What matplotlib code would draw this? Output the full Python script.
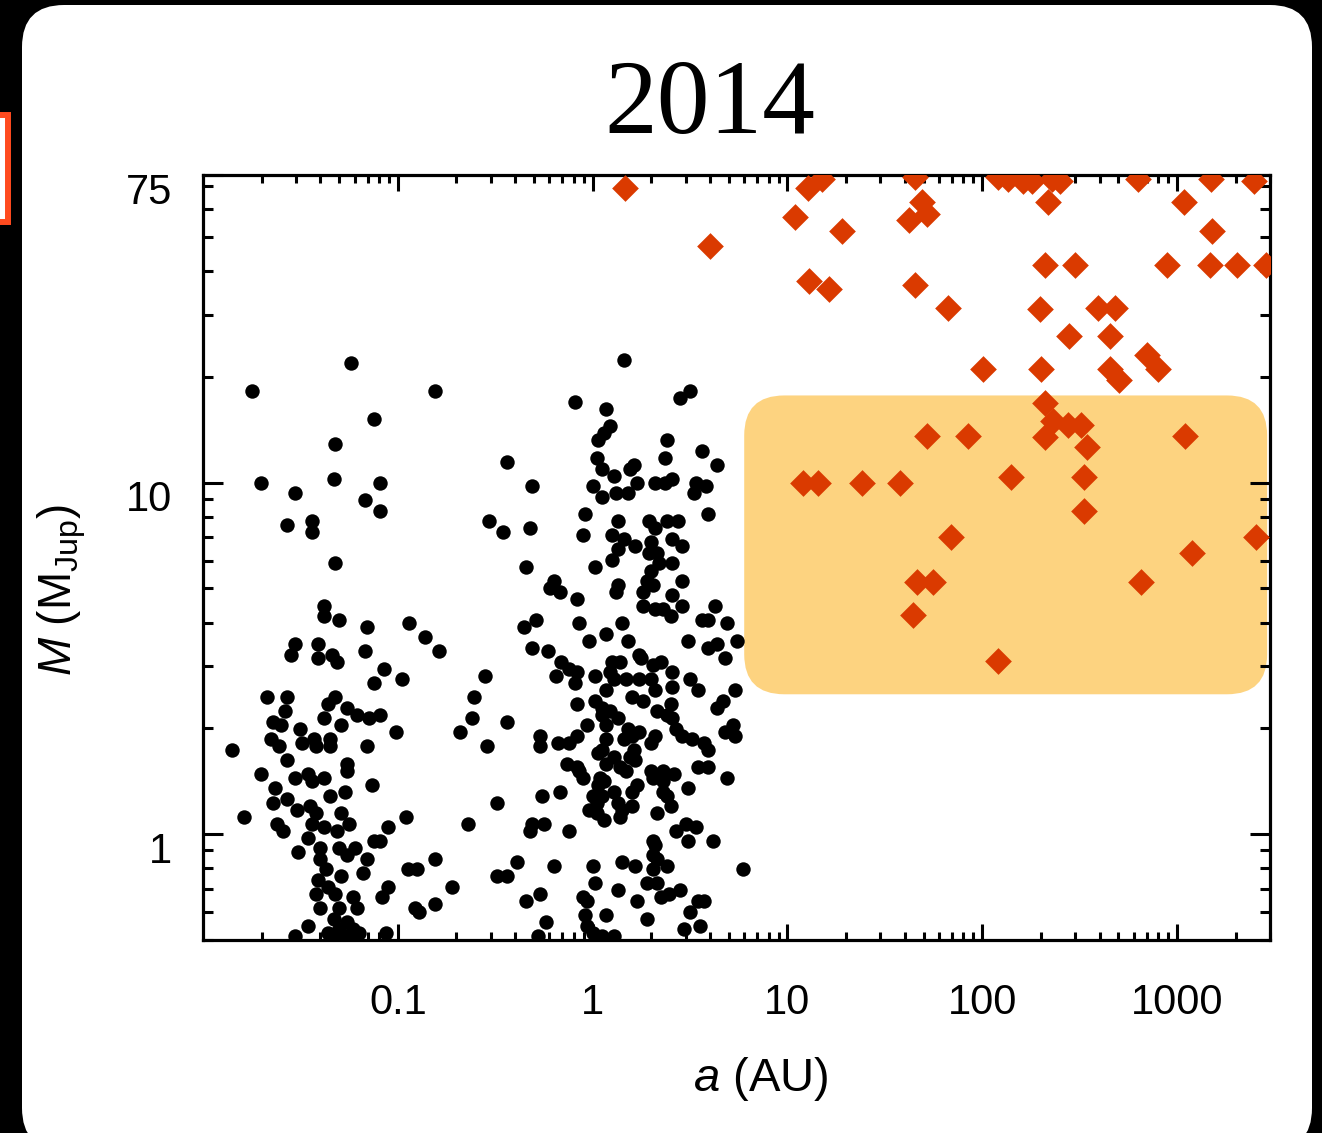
import numpy as np
import matplotlib
matplotlib.use("Agg")
import matplotlib.pyplot as plt
from matplotlib.patches import FancyBboxPatch, Rectangle
from matplotlib.ticker import FixedLocator, FixedFormatter, LogLocator, NullFormatter
from matplotlib.transforms import ScaledTranslation

# --- data -------------------------------------------------------------------
# planets (black dots), stored as log10(a / AU) and log10(M / M_Jup)
log_a_planets = [
    -1.24, -1.75, -0.81, -1.12, -1.32, -1.33, -1.70, -1.09, -1.53, -1.17,
    -1.09, -1.57, -1.44, -1.44, -1.32, -1.38, -1.38, -1.30, -1.16, -0.94,
    -0.86, -1.53, -1.55, -1.41, -1.41, -1.34, -1.31, -1.17, -0.79, -1.07,
    -1.12, -0.98, -0.55, -1.67, -1.57, -1.58, -1.64, -1.60, -1.32, -1.36,
    -1.26, -1.21, -1.15, -1.09, -1.38, -1.29, -1.50, -0.61, -0.62, -0.68,
    -1.01, -1.85, -1.65, -1.61, -1.49, -1.43, -1.42, -1.35, -1.35, -1.16,
    -1.57, -1.26, -1.26, -1.70, -1.53, -1.46, -1.44, -1.38, -1.13, -1.63,
    -1.57, -1.64, -1.35, -1.27, -1.79, -1.52, -1.45, -1.42, -1.29, -0.96,
    -0.64, -1.62, -1.59, -1.44, -1.38, -1.31, -1.25, -1.05, -1.46, -1.51,
    -1.40, -1.30, -1.22, -1.26, -1.12, -1.09, -1.16, -1.40, -1.37, -1.29,
    -1.18, -0.95, -0.90, -0.81, -1.41, -1.36, -1.42, -1.32, -1.23, -1.05,
    -1.08, -0.72, -1.40, -1.30, -1.21, -0.91, -0.89, -0.81, -1.46, -1.33,
    -1.26, -1.36, -1.30, -1.23, -1.20, -1.53, -1.06, -1.33, -1.26, -0.44,
    -0.53, -0.46, -0.32, -0.34, -0.31, 0.16, 0.50, 0.45, -0.09, 0.07,
    0.09, 0.06, 0.03, 0.38, 0.02, 0.37, 0.56, 0.64, 0.05, 0.19,
    0.21, 0.11, 0.00, 0.23, 0.32, 0.37, 0.41, 0.53, 0.58, 0.52,
    0.05, 0.12, 0.18, 0.59, -0.04, -0.05, 0.13, 0.10, 0.29, 0.32,
    0.38, 0.44, 0.16, 0.13, 0.22, 0.30, 0.29, 0.41, 0.46, 0.33,
    0.34, 0.41, 0.10, 0.01, 0.30, 0.28, 0.31, 0.46, -0.20, -0.22,
    -0.17, -0.08, 0.13, 0.12, 0.26, 0.41, 0.26, 0.32, 0.36, 0.46,
    0.40, 0.63, 0.56, 0.59, 0.69, -0.29, -0.35, -0.07, 0.15, -0.02,
    0.07, 0.18, 0.49, 0.59, 0.64, 0.74, -0.31, -0.23, 0.68, 0.24,
    0.25, 0.10, 0.14, 0.31, 0.35, 0.41, -0.16, -0.12, -0.08, -0.19,
    -0.09, 0.01, 0.09, 0.11, 0.17, 0.24, 0.30, 0.41, 0.50, 0.54,
    0.73, 0.32, 0.07, 0.01, 0.20, 0.26, -0.08, 0.05, 0.05, 0.09,
    0.13, 0.33, 0.38, 0.40, 0.41, 0.64, 0.67, -0.44, 0.07, -0.03,
    0.18, 0.24, 0.43, 0.46, 0.72, 0.73, 0.68, -0.08, -0.12, -0.27,
    -0.27, -0.18, -0.54, 0.07, 0.16, 0.20, 0.30, 0.32, 0.51, 0.57,
    0.59, 0.03, 0.05, 0.11, 0.21, 0.19, 0.22, -0.13, -0.08, -0.07,
    -0.05, 0.07, 0.14, 0.17, 0.30, 0.36, 0.36, 0.54, 0.59, 0.42,
    0.69, 0.49, 0.04, 0.03, 0.06, 0.11, 0.00, 0.05, 0.02, -0.17,
    -0.26, 0.23, 0.20, 0.31, 0.36, 0.38, -0.49, 0.13, 0.15, 0.14,
    0.20, -0.02, 0.02, 0.06, 0.33, 0.40, -0.31, -0.32, -0.25, -0.12,
    0.43, 0.48, 0.53, 0.31, 0.32, 0.49, 0.62, 0.31, 0.33, 0.38,
    -0.39, -0.20, 0.15, 0.00, 0.22, 0.31, 0.77, -0.49, -0.44, 0.01,
    0.28, 0.33, -0.34, -0.27, -0.05, -0.03, 0.13, 0.23, 0.35, 0.39,
    0.45, 0.54, 0.57, 0.50, -0.04, 0.07, 0.28, -0.24, 0.55, 0.47,
    -0.03, 0.00, 0.05, 0.11, -0.28,
]
log_m_planets = [
    1.34, 1.26, 1.26, 1.18, 1.11, 1.01, 1.00, 1.00, 0.97, 0.95,
    0.92, 0.88, 0.89, 0.86, 0.77, 0.65, 0.62, 0.61, 0.59, 0.60,
    0.56, 0.54, 0.51, 0.54, 0.50, 0.51, 0.49, 0.52, 0.52, 0.47,
    0.43, 0.44, 0.45, 0.39, 0.39, 0.35, 0.32, 0.31, 0.39, 0.37,
    0.36, 0.34, 0.33, 0.34, 0.33, 0.31, 0.30, 0.39, 0.33, 0.29,
    0.29, 0.24, 0.27, 0.25, 0.26, 0.27, 0.25, 0.27, 0.25, 0.25,
    0.21, 0.20, 0.18, 0.17, 0.16, 0.17, 0.15, 0.16, 0.14, 0.13,
    0.10, 0.09, 0.11, 0.12, 0.05, 0.07, 0.08, 0.06, 0.06, 0.05,
    0.03, 0.03, 0.01, 0.03, 0.02, 0.01, 0.03, 0.02, -0.01, -0.05,
    -0.04, -0.04, -0.04, -0.06, -0.02, -0.02, -0.07, -0.07, -0.10, -0.12,
    -0.11, -0.10, -0.10, -0.07, -0.13, -0.15, -0.17, -0.17, -0.18, -0.15,
    -0.18, -0.15, -0.21, -0.21, -0.21, -0.21, -0.22, -0.20, -0.26, -0.24,
    -0.25, -0.28, -0.27, -0.27, -0.28, -0.29, -0.28, -0.29, -0.29, 1.06,
    0.89, 0.86, 0.87, 0.76, 0.99, 1.35, 1.26, 1.24, 1.23, 1.21,
    1.16, 1.14, 1.12, 1.12, 1.07, 1.07, 1.09, 1.05, 1.04, 1.04,
    1.05, 1.02, 0.99, 1.00, 1.00, 1.00, 1.01, 1.00, 0.99, 0.97,
    0.96, 0.97, 0.97, 0.91, 0.91, 0.85, 0.89, 0.85, 0.89, 0.87,
    0.89, 0.89, 0.84, 0.81, 0.82, 0.83, 0.80, 0.84, 0.82, 0.80,
    0.77, 0.77, 0.78, 0.76, 0.75, 0.72, 0.71, 0.72, 0.72, 0.70,
    0.69, 0.67, 0.71, 0.69, 0.69, 0.68, 0.65, 0.64, 0.64, 0.65,
    0.62, 0.65, 0.61, 0.61, 0.60, 0.61, 0.59, 0.60, 0.60, 0.55,
    0.57, 0.55, 0.55, 0.53, 0.54, 0.55, 0.53, 0.52, 0.50, 0.51,
    0.50, 0.49, 0.49, 0.48, 0.49, 0.46, 0.49, 0.47, 0.46, 0.45,
    0.43, 0.45, 0.46, 0.44, 0.44, 0.44, 0.44, 0.42, 0.44, 0.41,
    0.41, 0.41, 0.41, 0.38, 0.39, 0.38, 0.37, 0.36, 0.34, 0.35,
    0.33, 0.35, 0.34, 0.37, 0.33, 0.36, 0.38, 0.32, 0.31, 0.31,
    0.30, 0.29, 0.30, 0.28, 0.31, 0.28, 0.29, 0.28, 0.26, 0.28,
    0.25, 0.26, 0.25, 0.27, 0.27, 0.28, 0.26, 0.28, 0.27, 0.26,
    0.24, 0.23, 0.24, 0.22, 0.24, 0.22, 0.21, 0.20, 0.19, 0.18,
    0.16, 0.20, 0.19, 0.18, 0.18, 0.18, 0.15, 0.19, 0.19, 0.17,
    0.16, 0.13, 0.16, 0.14, 0.15, 0.12, 0.11, 0.11, 0.09, 0.12,
    0.11, 0.14, 0.12, 0.16, 0.12, 0.11, 0.09, 0.09, 0.07, 0.05,
    0.08, 0.07, 0.06, 0.04, 0.06, 0.08, 0.03, 0.01, 0.03, 0.01,
    0.01, 0.03, 0.02, -0.02, -0.03, -0.02, -0.02, -0.06, -0.07, -0.09,
    -0.08, -0.09, -0.08, -0.09, -0.09, -0.10, -0.10, -0.12, -0.12, -0.14,
    -0.14, -0.14, -0.19, -0.17, -0.18, -0.19, -0.16, -0.19, -0.18, -0.17,
    -0.16, -0.19, -0.19, -0.22, -0.23, -0.23, -0.24, -0.25, -0.26, -0.27,
    -0.26, -0.28, -0.29, -0.29, -0.29,
]

# wide companions (orange diamonds): a in AU, M in M_Jup
a_companions = [
    1.47, 4.0, 11.0, 12.8, 15.1, 19.1, 12.9, 16.4, 45, 49,
    42, 52, 45, 67, 101, 121, 135, 161, 181, 229,
    252, 634, 1500, 2470, 218, 1090, 1520, 211, 301, 883,
    1470, 2020, 2850, 199, 395, 483, 280, 455, 201, 455,
    506, 705, 802, 211, 232, 277, 323, 211, 343, 1100,
    52, 85, 12, 14.4, 24, 38, 141, 331, 331, 69,
    2530, 1200, 46, 56, 650, 44, 120,
]
m_companions = [
    69, 47, 57, 69, 73, 52, 37.5, 35.6, 74, 63,
    56, 58, 36.5, 31.4, 21, 74, 73, 72, 72, 73,
    72, 73, 73, 72, 63, 63, 52, 41.6, 41.6, 41.6,
    41.6, 41.6, 41.6, 31.2, 31.4, 31.4, 26.2, 26.2, 21, 21,
    19.6, 23.1, 21, 16.8, 15.0, 14.6, 14.6, 13.5, 12.6, 13.6,
    13.6, 13.6, 10, 10, 10, 10, 10.4, 10.4, 8.3, 7.0,
    7.0, 6.3, 5.2, 5.2, 5.2, 4.2, 3.1,
]

# highlighted region
region_a = [6.0, 2900.0]
region_m = [2.5, 17.7]

year = "2014"
x_ticks = [0.1, 1, 10, 100, 1000]
x_tick_labels = ["0.1", "1", "10", "100", "1000"]
y_ticks = [1, 10, 75]
y_tick_labels = ["1", "10", "75"]

DOT_COLOR = "black"
DIAMOND_COLOR = "#DA3A00"
REGION_COLOR = "#FDD380"


def main() -> None:
    plt.rcParams["font.family"] = ["Liberation Sans", "DejaVu Sans"]
    plt.rcParams["mathtext.fontset"] = "custom"
    plt.rcParams["mathtext.rm"] = "Liberation Sans"
    plt.rcParams["mathtext.it"] = "Liberation Sans:italic"
    plt.rcParams["mathtext.bf"] = "Liberation Sans:bold"

    W, H, dpi = 13.22, 11.33, 100
    fig = plt.figure(figsize=(W, H), dpi=dpi, facecolor="black")

    # white rounded card
    card = FancyBboxPatch((0.22, -0.17), 12.90, 11.45,
                          boxstyle="round,pad=0,rounding_size=0.42",
                          transform=fig.dpi_scale_trans,
                          facecolor="white", edgecolor="none", zorder=-2)
    fig.add_artist(card)
    # cut-off orange frame at the left edge
    frame = Rectangle((-0.2, 9.11), 0.28, 1.07, transform=fig.dpi_scale_trans,
                      facecolor="white", edgecolor="#FF4B1F", linewidth=4.3,
                      zorder=-1)
    fig.add_artist(frame)

    ax = fig.add_axes([203 / 1322, 1 - 940 / 1133, 1067 / 1322, 765 / 1133])
    ax.set_xscale("log")
    ax.set_yscale("log")
    ax.set_xlim(0.01, 3000)
    ax.set_ylim(0.5, 75)

    # shaded region (rounded corners kept circular on screen)
    pos = ax.get_position()
    aspect = (pos.width * W) / (pos.height * H)
    to_axes = ax.transAxes.inverted()
    p0 = to_axes.transform(ax.transData.transform((region_a[0], region_m[0])))
    p1 = to_axes.transform(ax.transData.transform((region_a[1], region_m[1])))
    r = 0.40 / (pos.width * W)
    region = FancyBboxPatch((p0[0], p0[1]), p1[0] - p0[0], p1[1] - p0[1],
                            boxstyle=f"round,pad=0,rounding_size={r}",
                            mutation_aspect=aspect, transform=ax.transAxes,
                            facecolor=REGION_COLOR, edgecolor="none", zorder=1)
    ax.add_patch(region)

    a_pl = 10 ** np.array(log_a_planets)
    m_pl = 10 ** np.array(log_m_planets)
    ax.scatter(a_pl, m_pl, s=108, c=DOT_COLOR, marker="o", linewidths=0, zorder=3)
    ax.scatter(a_companions, m_companions, s=185, c=DIAMOND_COLOR, marker="D",
               linewidths=0, zorder=4)

    # axes styling
    for sp in ax.spines.values():
        sp.set_linewidth(2.3)
    ax.xaxis.set_major_locator(FixedLocator(x_ticks))
    ax.xaxis.set_major_formatter(FixedFormatter(x_tick_labels))
    ax.xaxis.set_minor_locator(LogLocator(base=10, subs=np.arange(2, 10), numticks=20))
    ax.xaxis.set_minor_formatter(NullFormatter())
    ax.yaxis.set_major_locator(FixedLocator(y_ticks))
    ax.yaxis.set_major_formatter(FixedFormatter(y_tick_labels))
    ax.yaxis.set_minor_locator(LogLocator(base=10, subs=np.arange(2, 10), numticks=20))
    ax.yaxis.set_minor_formatter(NullFormatter())

    ax.tick_params(which="both", direction="in", top=True, right=True,
                   width=2.2, color="black", labelsize=30)
    ax.tick_params(axis="x", which="major", length=11.3, pad=31)
    ax.tick_params(axis="x", which="minor", length=6)
    ax.tick_params(axis="y", which="major", length=14.4, pad=22)
    ax.tick_params(axis="y", which="minor", length=7.2)

    shift = ScaledTranslation(0, -13 / dpi, fig.dpi_scale_trans)
    for lbl in ax.get_yticklabels():
        lbl.set_transform(lbl.get_transform() + shift)

    ax.set_xlabel(r"$a$ (AU)", fontsize=34)
    ax.xaxis.set_label_coords(0.523, -0.150)
    ax.set_ylabel(r"$M$ (M$_{\mathrm{Jup}}$)", fontsize=33)
    ax.yaxis.set_label_coords(-0.108, 0.458)

    fig.text(710 / 1322, 1 - 133 / 1133, year, ha="center", va="baseline",
             fontsize=76, family="Liberation Serif")

    fig.savefig("out.png", dpi=dpi, facecolor="black")


if __name__ == "__main__":
    main()
